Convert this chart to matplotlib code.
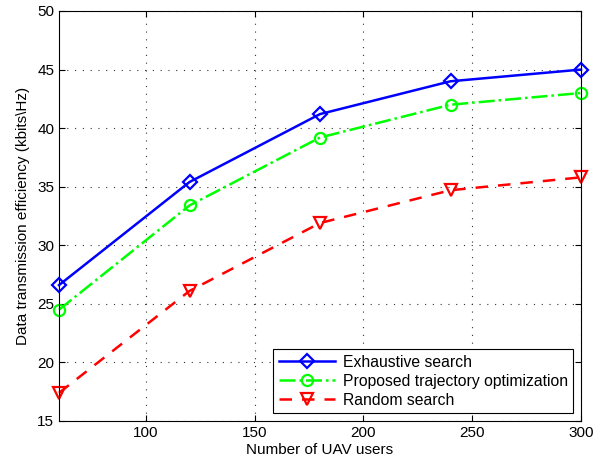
import numpy as np
import matplotlib
matplotlib.use("Agg")
import matplotlib.pyplot as plt

plt.rcParams["font.family"] = ["Liberation Sans", "DejaVu Sans"]

# ── data ──────────────────────────────────────────────
users = [60, 120, 180, 240, 300]
exhaustive = [26.6, 35.4, 41.2, 44.0, 45.0]
proposed = [24.5, 33.4, 39.2, 42.0, 43.0]
random_search = [17.4, 26.1, 31.9, 34.7, 35.8]

x_ticks = [100, 150, 200, 250, 300]
y_ticks = [15, 20, 25, 30, 35, 40, 45, 50]

fig = plt.figure(figsize=(6.08, 4.66), dpi=100)
ax = fig.add_axes([59 / 608, 45 / 466, 522 / 608, 410 / 466])

ax.plot(users, exhaustive, "-", color="#0000ff", lw=1.8, marker="D", ms=7,
        mfc="none", mew=1.6, label="Exhaustive search", clip_on=False)
ax.plot(users, proposed, "-.", color="#00ff00", lw=1.8, marker="o", ms=8,
        mfc="none", mew=1.6, label="Proposed trajectory optimization", clip_on=False)
ax.plot(users, random_search, "--", color="#ff0000", lw=1.8, marker="v", ms=9,
        mfc="none", mew=1.6, label="Random search", clip_on=False,
        dashes=(5, 4))

ax.set_xlim(60, 300)
ax.set_ylim(15, 50)
ax.set_xticks(x_ticks)
ax.set_yticks(y_ticks)
ax.tick_params(direction="in", top=True, right=True, labelsize=11, length=4)
ax.grid(True, linestyle=(0, (1, 6)), color="#333333", lw=0.8)
for s in ax.spines.values():
    s.set_linewidth(0.8)

ax.set_xlabel("Number of UAV users", fontsize=11, labelpad=2)
ax.set_ylabel("Data transmission efficiency (kbits\\Hz)", fontsize=11, labelpad=5)

leg = ax.legend(loc="lower right", fontsize=11.3, fancybox=False, framealpha=1,
                edgecolor="black", borderaxespad=0.5, handlelength=3.6,
                handletextpad=0.45, borderpad=0.35, labelspacing=0.25)
leg.get_frame().set_linewidth(0.8)

fig.savefig("out.png", dpi=100)
